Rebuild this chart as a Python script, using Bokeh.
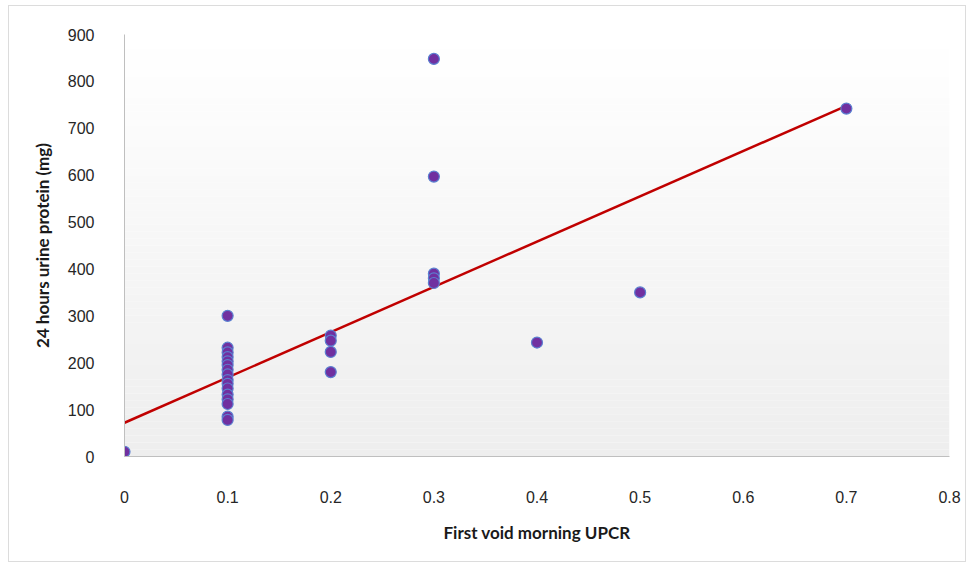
from bokeh.plotting import figure
from bokeh.models import FixedTicker, Range1d
from bokeh.embed import file_html
from bokeh.resources import INLINE

# ---- data ----
upcr_x = [0.0,
          0.1, 0.1, 0.1, 0.1, 0.1, 0.1, 0.1, 0.1, 0.1, 0.1, 0.1, 0.1, 0.1, 0.1, 0.1, 0.1,
          0.2, 0.2, 0.2, 0.2,
          0.3, 0.3, 0.3, 0.3, 0.3,
          0.4, 0.5, 0.7]
protein_y = [10,
             300, 232, 222, 212, 203, 195, 185, 175, 163, 155, 145, 132, 122, 112, 85, 78,
             258, 247, 223, 180,
             848, 597, 390, 380, 370,
             243, 350, 742]
trend_x = [0.0, 0.7]
trend_y = [72, 748]
x_ticks = [0, 0.1, 0.2, 0.3, 0.4, 0.5, 0.6, 0.7, 0.8]
y_ticks = [0, 100, 200, 300, 400, 500, 600, 700, 800, 900]

W, H = 958, 557
p = figure(width=W, height=H, output_backend="svg", toolbar_location=None,
           x_range=Range1d(0, 0.8), y_range=Range1d(0, 900),
           min_border_left=115, min_border_right=18, min_border_top=28,
           min_border_bottom=107)
p.styles = {"border": "1px solid #dcdcdc", "box-sizing": "border-box",
            "margin-left": "8px", "margin-top": "5px"}

# background gradient: white at top to light grey at bottom
n = 60
for i in range(n):
    t = i / (n - 1)
    g = int(round(255 - (255 - 238) * (1 - t)))
    col = "#%02x%02x%02x" % (g, g, g)
    p.quad(left=0, right=0.8, bottom=900 * i / n, top=900 * (i + 1) / n,
           fill_color=col, line_color=None)

p.background_fill_color = "white"
p.border_fill_color = "white"
p.outline_line_color = None
p.grid.visible = False

# trend line
p.line(trend_x, trend_y, line_color="#c00000", line_width=2.5)

# markers
p.scatter(upcr_x, protein_y, size=11, fill_color="#7030a0", line_color="#5b7fd0",
          line_width=1.2)

for ax in (p.xaxis[0], p.yaxis[0]):
    ax.axis_line_color = "#bfbfbf"
    ax.axis_line_width = 1
    ax.major_tick_line_color = None
    ax.minor_tick_line_color = None
    ax.major_label_text_font = "Liberation Sans"
    ax.major_label_text_font_size = "16px"
    ax.major_label_text_color = "#262626"
    ax.axis_label_text_font = "Lato"
    ax.axis_label_text_font_style = "bold"
    ax.axis_label_text_font_size = "17px"
    ax.axis_label_text_color = "#1a1a1a"

p.xaxis.ticker = FixedTicker(ticks=x_ticks)
p.yaxis.ticker = FixedTicker(ticks=y_ticks)
p.xaxis.major_label_standoff = 28
p.yaxis.major_label_standoff = 24
p.xaxis.axis_label = "First void morning UPCR"
p.yaxis.axis_label = "24 hours urine protein (mg)"
p.xaxis.axis_label_standoff = 16
p.yaxis.axis_label_standoff = 12

open("out.html", "w").write(file_html(p, INLINE))
